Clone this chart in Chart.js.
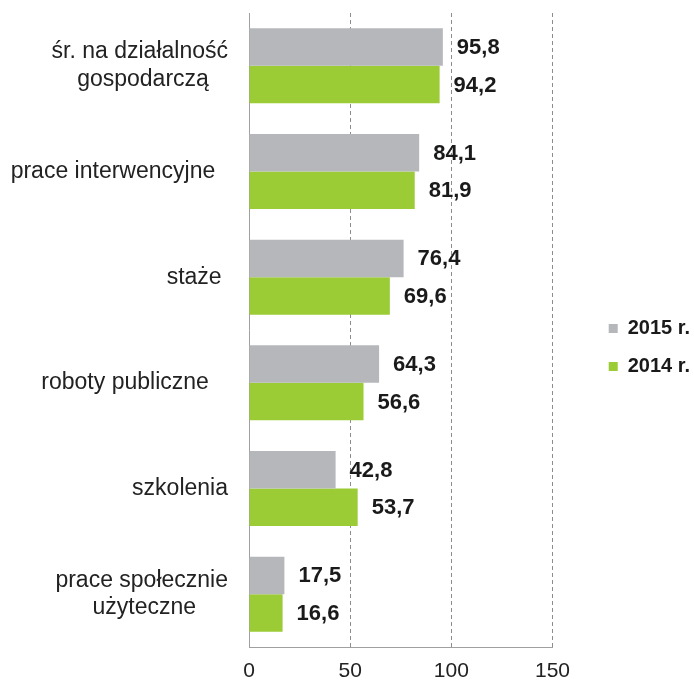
<!DOCTYPE html>
<html>
<head>
<meta charset="utf-8">
<script src="https://cdn.jsdelivr.net/npm/chart.js@4"></script>
<style>
  body { margin: 0; background: #fff; }
  #wrap { width: 694px; height: 682px; }
</style>
</head>
<body>
<div id="wrap"><canvas id="chart" width="694" height="682"></canvas></div>
<script>
// category labels (trailing spaces mimic the original offsets)
const categories = [
  ['śr. na działalność', 'gospodarczą   '],
  'prace interwencyjne  ',
  'staże ',
  'roboty publiczne   ',
  'szkolenia',
  ['prace społecznie', 'użyteczne     ']
];
const seriesNames = ['2015 r.', '2014 r.'];
const values2015 = [95.8, 84.1, 76.4, 64.3, 42.8, 17.5];
const values2014 = [94.2, 81.9, 69.6, 56.6, 53.7, 16.6];
const xTicks = [0, 50, 100, 150];

const FONT = "'Liberation Sans', Arial, sans-serif";

const valueLabels = {
  id: 'valueLabels',
  afterDatasetsDraw(chart) {
    const ctx = chart.ctx;
    ctx.save();
    ctx.font = 'bold 22px ' + FONT;
    ctx.fillStyle = '#1a1a1a';
    ctx.textAlign = 'left';
    ctx.textBaseline = 'middle';
    chart.data.datasets.forEach((ds, i) => {
      chart.getDatasetMeta(i).data.forEach((bar, j) => {
        const txt = ds.data[j].toFixed(1).replace('.', ',');
        ctx.fillText(txt, bar.x + 14, bar.y + 1);
      });
    });
    ctx.restore();
  }
};

new Chart(document.getElementById('chart'), {
  type: 'bar',
  data: {
    labels: categories,
    datasets: [
      {
        label: seriesNames[0],
        data: values2015,
        backgroundColor: '#b5b7bb',
        categoryPercentage: 0.71,
        barPercentage: 1.0
      },
      {
        label: seriesNames[1],
        data: values2014,
        backgroundColor: '#9bcb35',
        categoryPercentage: 0.71,
        barPercentage: 1.0
      }
    ]
  },
  options: {
    indexAxis: 'y',
    responsive: false,
    animation: false,
    layout: { padding: { top: 13, left: 0, right: -6, bottom: 0 } },
    plugins: {
      tooltip: { enabled: false },
      legend: {
        display: true,
        position: 'right',
        align: 'center',
        labels: {
          boxWidth: 9,
          boxHeight: 9,
          padding: 18,
          color: '#1a1a1a',
          font: { family: FONT, size: 20, weight: 'bold' }
        }
      },
      // empty spacer keeping the legend away from the plot
      subtitle: {
        display: true,
        position: 'right',
        text: '',
        weight: 500,
        fullSize: false,
        font: { size: 1 },
        padding: { top: 0, bottom: 37 }
      }
    },
    scales: {
      x: {
        min: 0,
        max: 150,
        afterBuildTicks(scale) {
          scale.ticks = xTicks.map(v => ({ value: v }));
        },
        afterFit(scale) {
          scale.height = 35;
          scale.paddingLeft = 0;
          scale.paddingRight = 0;
        },
        grid: {
          drawTicks: false,
          color: (c) => (c.tick && c.tick.value === 0 ? 'rgba(0,0,0,0)' : '#8c8c8c'),
          lineWidth: 1
        },
        border: { display: true, color: '#a0a0a0', width: 1, dash: [4, 3] },
        ticks: {
          padding: 12,
          color: '#222',
          font: { family: FONT, size: 21 }
        }
      },
      y: {
        afterFit(scale) {
          scale.width = 249;
          scale.paddingTop = 0;
          scale.paddingBottom = 0;
        },
        grid: { display: false },
        border: { display: true, color: '#a0a0a0', width: 1 },
        ticks: {
          padding: 13,
          crossAlign: 'near',
          color: '#222',
          font: { family: FONT, size: 23, lineHeight: 1.2 }
        }
      }
    }
  },
  plugins: [valueLabels]
});
</script>
</body>
</html>
